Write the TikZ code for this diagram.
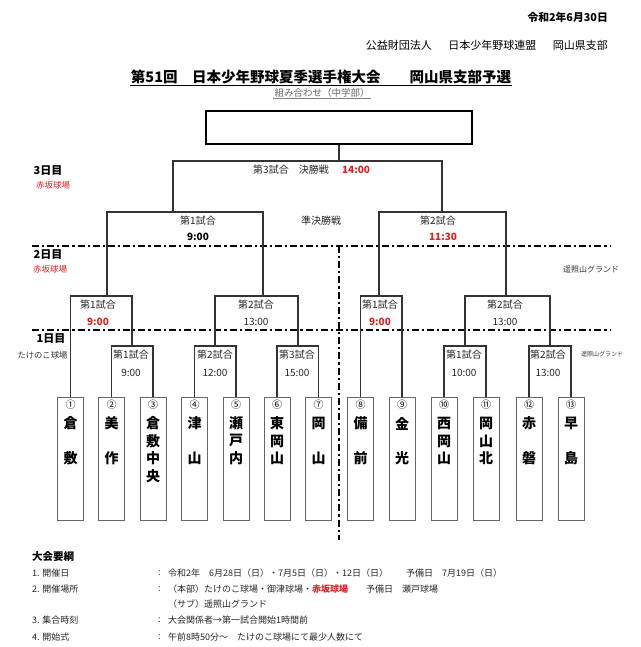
\documentclass[tikz,border=0pt]{standalone}
\usepackage{fontspec}
\setmainfont{Noto Sans CJK JP}
\definecolor{bred}{HTML}{E02020}
\definecolor{ln}{HTML}{333333}
\tikzset{
  br/.style={draw=ln, line width=1.3pt},
  dd/.style={draw=black, line width=1.8pt, dash pattern=on 7pt off 3pt on 2.2pt off 3pt},
  lbl/.style={inner sep=0pt, font=\fontsize{10}{12}\selectfont, text=black!85},
  lblb/.style={inner sep=0pt, font=\fontsize{10}{12}\selectfont\bfseries, text=black},
  lblr/.style={inner sep=0pt, font=\fontsize{10}{12}\selectfont\bfseries, text=bred},
  daylbl/.style={inner sep=0pt, font=\fontsize{11}{13}\selectfont\bfseries},
  venue/.style={inner sep=0pt, font=\fontsize{8.5}{10}\selectfont, text=bred},
  small/.style={inner sep=0pt, font=\fontsize{8.3}{10}\selectfont, text=black!80},
  teambox/.style={draw=black!60, line width=1pt, minimum width=26pt, minimum height=123pt, inner sep=0pt},
  numlbl/.style={inner sep=0pt, font=\fontsize{10}{12}\selectfont},
  namechar/.style={inner sep=0pt, font=\fontsize{14}{16}\selectfont\bfseries},
  body/.style={inner sep=0pt, anchor=west, font=\fontsize{9}{11}\selectfont, text=black!85},
}
\begin{document}
\begin{tikzpicture}[x=1pt,y=-1pt]
\useasboundingbox (0,0) rectangle (640,647);

% header
\node[anchor=east, inner sep=0pt, font=\fontsize{10.8}{12}\selectfont\bfseries] (date) at (608,17) {令和2年6月30日};
\node[anchor=east, inner sep=0pt, font=\fontsize{11}{13}\selectfont] (org) at (608,45) {公益財団法人\hspace{1.5em}日本少年野球連盟\hspace{1.5em}岡山県支部};
\node[inner sep=1pt, font=\fontsize{14.5}{16}\selectfont\bfseries] (title) at (321,77) {第51回\hspace{1em}日本少年野球夏季選手権大会\hspace{2em}岡山県支部予選};
\draw[line width=0.8pt] (title.south west) -- (title.south east);
\node[inner sep=1pt, font=\fontsize{9.5}{11}\selectfont, text=black!60] (sub) at (322,93) {組み合わせ（中学部）};
\draw[line width=0.5pt, black!50] (sub.south west) -- (sub.south east);

% champion box
\node[draw=black, line width=1.8pt, minimum width=266pt, minimum height=33pt, inner sep=0pt] (champ) at (339,127.5) {};

% dash-dot separators
\coordinate (d1w) at (32,246); \coordinate (d1e) at (610,246);
\coordinate (d2w) at (32,330); \coordinate (d2e) at (610,330);
\coordinate (dvt) at (339,246); \coordinate (dvb) at (339,540);
\draw[dd] (d1w) -- (d1e);
\draw[dd] (d2w) -- (d2e);
\draw[dd] (dvt) -- (dvb);

% team boxes
\foreach \i/\x/\num in {1/70.5/①,2/111.5/②,3/153/③,4/194.5/④,5/236/⑤,6/277/⑥,7/318.5/⑦,8/360.5/⑧,9/402/⑨,10/444/⑩,11/486/⑪,12/529/⑫,13/571/⑬}{
  \node[teambox, fill=white] (t\i) at (\x,458.5) {};
  \node[numlbl] (n\i) at (\x,405) {\num};
}
\foreach \i/\r/\c in {1/1/倉,1/3/敷,2/1/美,2/3/作,3/1/倉,3/2/敷,3/3/中,3/4/央,4/1/津,4/3/山,5/1/瀬,5/2/戸,5/3/内,6/1/東,6/2/岡,6/3/山,7/1/岡,7/3/山,8/1/備,8/3/前,9/1/金,9/3/光,10/1/西,10/2/岡,10/3/山,11/1/岡,11/2/山,11/3/北,12/1/赤,12/3/磐,13/1/早,13/3/島}{
  \node[namechar] (c\i-\r) at ([yshift={-27pt-17.5pt*(\r-1)}]t\i.north) {\c};
}

% bracket points
\coordinate (f) at (339,161);
\coordinate (s1) at (173,212); \coordinate (s2) at (442,212);
\coordinate (q1) at (107,296); \coordinate (q2) at (263,296);
\coordinate (q3) at (379,296); \coordinate (q4) at (506,296);
\coordinate (mA) at (132,346); \coordinate (mB) at (215,346);
\coordinate (mC) at (298,346); \coordinate (mD) at (465,346);
\coordinate (mE) at (550,346);

\draw[br] (champ.south) -- (f);
\draw[br] (s1) |- (f) -| (s2);
\draw[br] (q1) |- (s1) -| (q2);
\draw[br] (q3) |- (s2) -| (q4);
\draw[br] (t1.north) |- (q1) -| (mA);
\draw[br] (mB) |- (q2) -| (mC);
\draw[br] (t8.north) |- (q3) -| (t9.north);
\draw[br] (mD) |- (q4) -| (mE);
\draw[br] (t2.north) |- (mA) -| (t3.north);
\draw[br] (t4.north) |- (mB) -| (t5.north);
\draw[br] (t6.north) |- (mC) -| (t7.north);
\draw[br] (t10.north) |- (mD) -| (t11.north);
\draw[br] (t12.north) |- (mE) -| (t13.north);

% match labels
\node[lbl] (fl) at (291,170) {第3試合\hspace{1em}決勝戦};
\node[lblr] (ft) at (356,170) {14:00};
\node[lbl] (sfl) at (321,221) {準決勝戦};
\node[lbl] (s1a) at (198,221) {第1試合};
\node[lblb] (s1b) at (198,237) {9:00};
\node[lbl] (s2a) at (438,221) {第2試合};
\node[lblr] (s2b) at (443,237) {11:30};

\node[lbl] (r2a) at (98,305) {第1試合};
\node[lblr] (r2at) at (98,322) {9:00};
\node[lbl] (r2b) at (256,305) {第2試合};
\node[lbl] (r2bt) at (256,322) {13:00};
\node[lbl] (r2c) at (380,305) {第1試合};
\node[lblr] (r2ct) at (380,322) {9:00};
\node[lbl] (r2d) at (505,305) {第2試合};
\node[lbl] (r2dt) at (505,322) {13:00};

\node[lbl] (r1a) at (131,355) {第1試合};
\node[lbl] (r1at) at (131,373) {9:00};
\node[lbl] (r1b) at (215,355) {第2試合};
\node[lbl] (r1bt) at (215,373) {12:00};
\node[lbl] (r1c) at (297,355) {第3試合};
\node[lbl] (r1ct) at (297,373) {15:00};
\node[lbl] (r1d) at (464,355) {第1試合};
\node[lbl] (r1dt) at (464,373) {10:00};
\node[lbl] (r1e) at (548,355) {第2試合};
\node[lbl] (r1et) at (548,373) {13:00};

% day labels
\node[daylbl] (d3) at (48,171) {3日目};
\node[venue] (v3) at (53,185) {赤坂球場};
\node[daylbl] (d2) at (48,255) {2日目};
\node[venue] (v2) at (50,269) {赤坂球場};
\node[daylbl] (d1) at (51,339) {1日目};
\node[small] (v1) at (42.5,355) {たけのこ球場};
\node[small, font=\fontsize{8}{10}\selectfont] (g2) at (591,269) {遥照山グランド};
\node[small, font=\fontsize{6}{8}\selectfont] (g1) at (602,354) {遥照山グランド};

% bottom notes
\node[body, font=\fontsize{10.5}{12}\selectfont\bfseries, text=black] (hd) at (32,557) {大会要綱};
\node[body] (k1) at (32,573) {1. 開催日};
\node[body] (c1) at (158,573) {:};
\node[body] (v1t) at (168,573) {令和2年　6月28日（日）・7月5日（日）・12日（日）　　予備日　7月19日（日）};
\node[body] (k2) at (32,589) {2. 開催場所};
\node[body] (c2) at (158,589) {:};
\node[body] (v2t) at (168,589) {（本部）たけのこ球場・御津球場・{\bfseries\color{bred}赤坂球場}　　予備日　瀬戸球場};
\node[body] (v2u) at (168,604) {（サブ）遥照山グランド};
\node[body] (k3) at (32,620) {3. 集合時刻};
\node[body] (c3) at (158,620) {:};
\node[body] (v3t) at (168,620) {大会関係者→第一試合開始1時間前};
\node[body] (k4) at (32,637) {4. 開始式};
\node[body] (c4) at (158,637) {:};
\node[body] (v4t) at (168,637) {午前8時50分～　たけのこ球場にて最少人数にて};
\end{tikzpicture}
\end{document}
